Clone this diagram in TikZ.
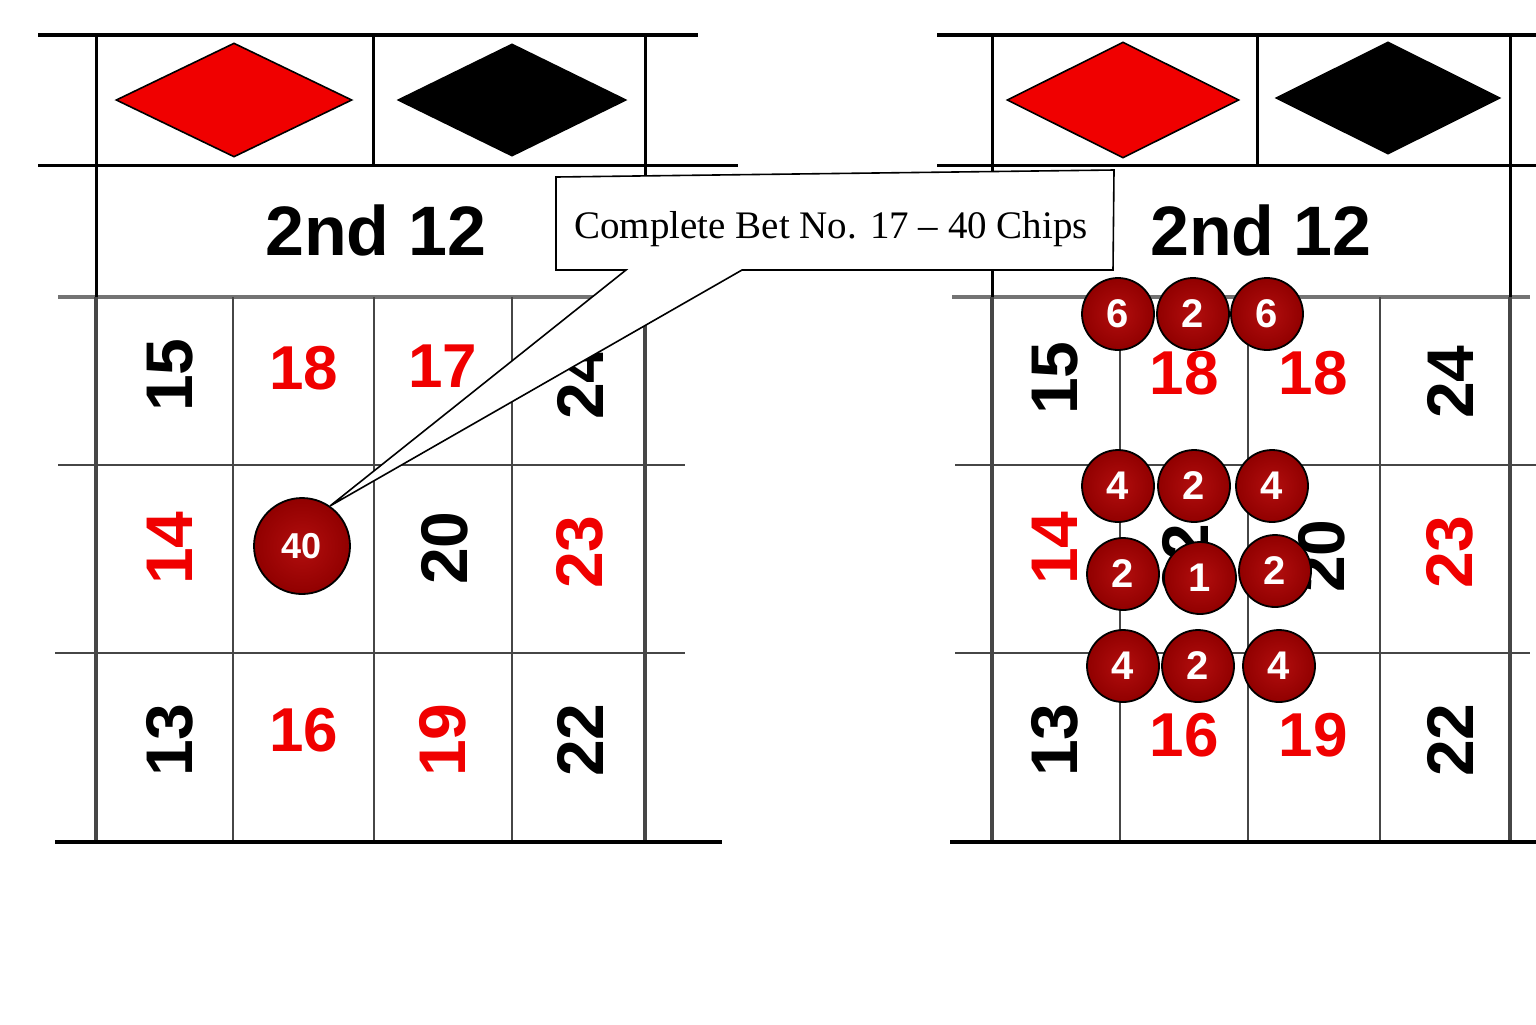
\documentclass[tikz,border=0pt]{standalone}
\usepackage{fontspec}
\setmainfont{Liberation Serif}
\newfontfamily\tablefont{Liberation Sans}
\usepackage{tikz}
\usetikzlibrary{shapes.geometric, positioning, calc}

\definecolor{tablered}{RGB}{240,0,0}
\definecolor{chipred}{RGB}{145,0,0}
\definecolor{chiplight}{RGB}{178,14,14}
\definecolor{gridgray}{RGB}{70,70,70}

\tikzset{
  %% Outer rails of the layout
  rail/.style={draw=black, line width=2.3pt},
  %% Thin rule between boxes
  rule/.style={draw=black, line width=1.5pt},
  %% Number grid lines
  gline/.style={draw=gridgray, line width=1.2pt},
  gtop/.style={draw=black!55, line width=2.2pt},
  %% Red / black diamond
  gem/.style={
    diamond, draw=black, line width=0.8pt, fill=#1,
    inner sep=0pt, minimum width=118pt, minimum height=57pt
  },
  gem/.default=tablered,
  %% Dozen label
  dozen/.style={font=\fontsize{35}{35}\selectfont\tablefont\bfseries},
  %% Numbers on the layout
  num/.style={
    text=#1, inner sep=0pt,
    font=\fontsize{31}{31}\selectfont\tablefont\bfseries
  },
  num/.default=black,
  rnum/.style={num=#1, rotate=90,
               font=\fontsize{33}{33}\selectfont\tablefont\bfseries},
  rnum/.default=black,
  %% Chips
  chip/.style={
    circle, draw=black, line width=0.9pt,
    inner color=chiplight, outer color=chipred,
    text=white, inner sep=0pt, minimum size=36pt,
    font=\fontsize{20}{20}\selectfont\tablefont\bfseries
  },
  %% Callout box
  callout/.style={draw=black, fill=white, line width=0.8pt, line join=miter},
}

\begin{document}
\begin{tikzpicture}[x=0.5pt, y=-0.5pt]
  \useasboundingbox[fill=white] (0,0) rectangle (1536,1024);

  %% ---------- Left layout ----------
  %% Grid
  \draw[gtop]  (58,297) -- (645,297);
  \draw[gline] (58,465) -- (685,465);
  \draw[gline] (55,653) -- (685,653);
  \foreach \x in {233,374,512} \draw[gline] (\x,297) -- (\x,842);
  \draw[gline, line width=2pt] (96,297) -- (96,842);
  \draw[gline, line width=2pt] (645,297) -- (645,842);

  %% Rails
  \draw[rail] (38,35) -- (698,35);
  \draw[rule] (38,165) -- (738,165);
  \draw[rule] (96,35) -- (96,297);
  \draw[rule] (373,35) -- (373,165);
  \draw[rule] (645,35) -- (645,297);
  \draw[rail] (55,842) -- (722,842);

  %% Diamonds and dozen
  \node[gem] (redL) at (234,100) {};
  \node[gem=black, minimum width=114pt, minimum height=56pt] (blackL) at (512,100) {};
  \node[dozen] (dozL) at (376,230) {2nd 12};

  %% Numbers
  \node[rnum]          (l15) at (170,375) {15};
  \node[num=tablered]  (l18) at (304,368) {18};
  \node[num=tablered]  (l17) at (443,366) {17};
  \node[rnum]          (l24) at (580,383) {24};
  \node[rnum=tablered] (l14) at (170,548) {14};
  \node[rnum]          (l20) at (445,548) {20};
  \node[rnum=tablered] (l23) at (580,552) {23};
  \node[rnum]          (l13) at (170,740) {13};
  \node[num=tablered]  (l16) at (304,730) {16};
  \node[rnum=tablered] (l19) at (443,740) {19};
  \node[rnum]          (l22) at (580,740) {22};

  %% Chip
  \node[chip, minimum size=48pt,
        font=\fontsize{18}{18}\selectfont\tablefont\bfseries]
       (c40) at (302,546) {40};

  %% ---------- Right layout ----------
  %% Grid
  \draw[gtop]  (952,297) -- (1530,297);
  \draw[gline] (955,465) -- (1536,465);
  \draw[gline] (955,653) -- (1530,653);
  \foreach \x in {1120,1248,1380} \draw[gline] (\x,297) -- (\x,842);
  \draw[gline, line width=2pt] (992,297) -- (992,842);
  \draw[gline, line width=2pt] (1510,297) -- (1510,842);

  %% Rails
  \draw[rail] (937,35) -- (1536,35);
  \draw[rule] (937,165) -- (1536,165);
  \draw[rule] (992,35) -- (992,297);
  \draw[rule] (1257,35) -- (1257,165);
  \draw[rule] (1510,35) -- (1510,297);
  \draw[rail] (950,842) -- (1536,842);

  %% Diamonds and dozen
  \node[gem, minimum width=116pt, minimum height=58pt] (redR) at (1123,100) {};
  \node[gem=black, minimum width=112pt, minimum height=56pt] (blackR) at (1388,98) {};
  \node[dozen] (dozR) at (1261,230) {2nd 12};

  %% Numbers
  \node[rnum]          (r15)  at (1055,378) {15};
  \node[num=tablered]  (r18a) at (1184,373) {18};
  \node[num=tablered]  (r18b) at (1313,373) {18};
  \node[rnum]          (r24)  at (1450,382) {24};
  \node[rnum=tablered] (r14)  at (1055,548) {14};
  \node[rnum]          (r22m) at (1185,560) {22};
  \node[rnum]          (r20)  at (1322,556) {20};
  \node[rnum=tablered] (r23)  at (1450,552) {23};
  \node[rnum]          (r13)  at (1055,740) {13};
  \node[num=tablered]  (r16)  at (1184,735) {16};
  \node[num=tablered]  (r19)  at (1313,735) {19};
  \node[rnum]          (r22)  at (1450,740) {22};

  %% Chips
  \foreach \v/\x/\y [count=\i] in {6/1118/314, 2/1193/314, 6/1267/314,
                                   4/1118/486, 2/1194/486, 4/1272/486,
                                   2/1123/574, 1/1200/578, 2/1275/571,
                                   4/1123/666, 2/1198/666, 4/1279/666}
    \node[chip] (rc\i) at (\x,\y) {\v};

  %% ---------- Callout ----------
  \coordinate (tip) at (c40.55);
  \draw[callout] (556,177) -- (1114,170) -- (1113,270) -- (742,270)
                 -- (tip) -- (626,270) -- (556,270) -- cycle;
  \node[font=\fontsize{19.5}{19.5}\selectfont, anchor=base]
       (note) at (831,238) {Complete Bet No. 17 \textendash{} 40 Chips};

\end{tikzpicture}
\end{document}
